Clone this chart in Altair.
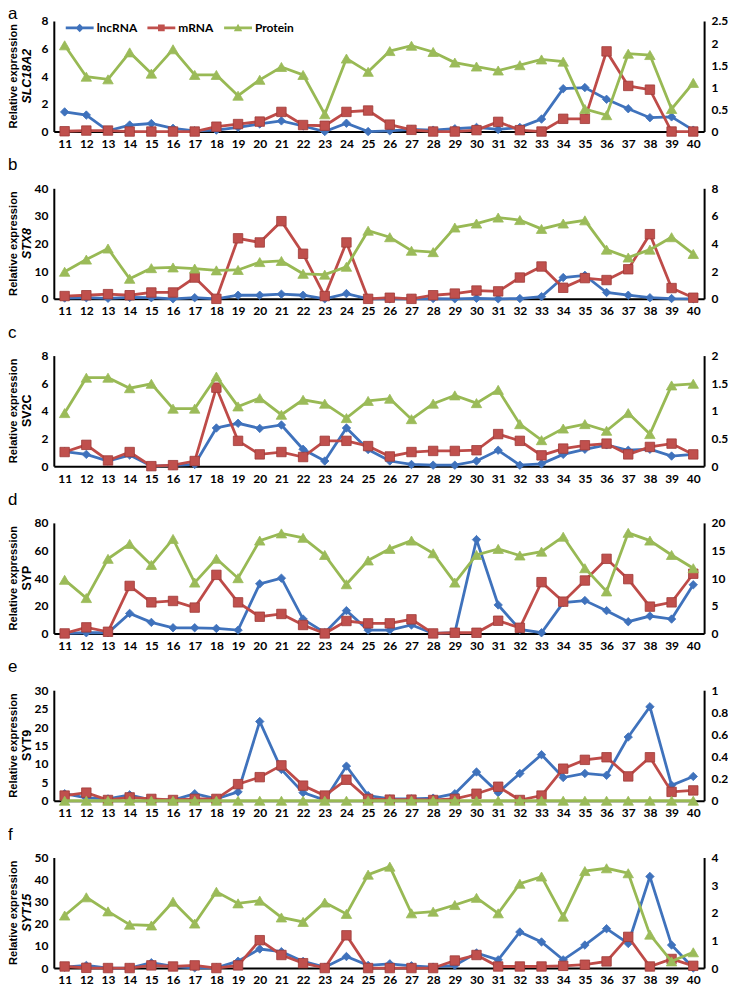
import altair as alt
import pandas as pd

stages = list(range(11, 41))
series_names = ["lncRNA", "mRNA", "Protein"]
panel_letters = ["a", "b", "c", "d", "e", "f"]
genes = ["SLC18A2", "STX8", "SV2C", "SYP", "SYT9", "SYT15"]
gene_italic = [True, True, False, False, False, True]

left_ticks = [[0, 2, 4, 6, 8], [0, 10, 20, 30, 40], [0, 2, 4, 6, 8],
              [0, 20, 40, 60, 80], [0, 5, 10, 15, 20, 25, 30], [0, 10, 20, 30, 40, 50]]
right_ticks = [[0, 0.5, 1, 1.5, 2, 2.5], [0, 2, 4, 6, 8], [0, 0.5, 1, 1.5, 2],
               [0, 5, 10, 15, 20], [0, 0.2, 0.4, 0.6, 0.8, 1], [0, 1, 2, 3, 4]]
show_legend = [True, False, False, True, True, True]
legend_y = [-7, 0, 0, -11, -6, -11]
title_offset = [-8, 8, 8, 8, 8, 8]

# ---- panel a: SLC18A2
a_lnc = [1.42, 1.19, 0.05, 0.47, 0.58, 0.23, 0.05, 0.1, 0.3, 0.55, 0.77, 0.4, 0.0, 0.6, 0.0,
         0.05, 0.15, 0.1, 0.2, 0.3, 0.15, 0.3, 0.9, 3.1, 3.18, 2.33, 1.65, 1.0, 1.06, 0.1]
a_mrna = [0.02, 0.07, 0.07, 0.0, 0.0, 0.0, 0.0, 0.35, 0.54, 0.72, 1.42, 0.47, 0.42, 1.42, 1.52,
          0.5, 0.12, 0.0, 0.0, 0.1, 0.7, 0.1, 0.0, 0.92, 0.92, 5.8, 3.3, 3.03, 0.0, 0.0]
a_prot = [1.95, 1.24, 1.18, 1.79, 1.31, 1.86, 1.28, 1.28, 0.81, 1.17, 1.46, 1.28, 0.39, 1.65, 1.35,
          1.82, 1.94, 1.8, 1.56, 1.47, 1.38, 1.5, 1.63, 1.58, 0.51, 0.37, 1.76, 1.73, 0.51, 1.1]
# ---- panel b: STX8
b_lnc = [0.3, 0.4, 0.2, 0.5, 0.4, 0.0, 0.4, 0.0, 1.3, 1.3, 1.7, 1.3, 0.0, 1.9, 0.0,
         0.0, 0.0, 0.1, 0.0, 0.2, 0.0, 0.1, 0.8, 7.7, 8.5, 2.3, 1.3, 0.4, 0.1, 0.0]
b_mrna = [1.0, 1.3, 1.7, 1.3, 2.3, 2.3, 7.7, 0.0, 21.9, 20.4, 28.1, 16.3, 1.0, 20.4, 0.0,
          0.4, 0.0, 1.3, 1.9, 3.0, 2.7, 7.7, 11.7, 4.0, 7.5, 6.8, 10.7, 23.4, 3.9, 0.4]
b_prot = [1.96, 2.84, 3.64, 1.45, 2.22, 2.27, 2.19, 2.06, 2.09, 2.66, 2.74, 1.81, 1.75, 2.32, 4.93,
          4.46, 3.48, 3.38, 5.16, 5.45, 5.88, 5.7, 5.06, 5.45, 5.68, 3.56, 2.99, 3.56, 4.46, 3.25]
# ---- panel c: SV2C
c_lnc = [1.05, 0.85, 0.37, 0.8, 0.0, 0.05, 0.12, 2.76, 3.1, 2.73, 2.98, 1.22, 0.37, 2.76, 1.2,
         0.37, 0.12, 0.07, 0.07, 0.37, 1.15, 0.07, 0.17, 0.85, 1.22, 1.54, 1.15, 1.22, 0.73, 0.85]
c_mrna = [1.02, 1.54, 0.41, 1.02, 0.0, 0.07, 0.37, 5.68, 1.83, 0.85, 1.02, 0.66, 1.83, 1.83, 1.45,
          0.7, 1.02, 1.1, 1.1, 1.15, 2.32, 1.83, 0.78, 1.27, 1.51, 1.63, 0.85, 1.39, 1.63, 0.85]
c_prot = [0.96, 1.6, 1.6, 1.41, 1.49, 1.04, 1.04, 1.62, 1.08, 1.23, 0.93, 1.2, 1.13, 0.87, 1.18,
          1.22, 0.85, 1.13, 1.28, 1.14, 1.38, 0.76, 0.47, 0.68, 0.76, 0.64, 0.96, 0.58, 1.46, 1.49]
# ---- panel d: SYP
d_lnc = [0.0, 0.5, 0.5, 14.5, 8.0, 4.1, 4.1, 3.6, 2.4, 35.9, 40.0, 10.4, 0.5, 16.5, 2.4,
         2.4, 6.1, 0.0, 0.5, 67.9, 20.6, 2.9, 0.5, 22.3, 23.8, 16.5, 8.5, 12.6, 10.4, 35.2]
d_mrna = [0.0, 4.4, 1.2, 34.4, 22.5, 23.5, 18.7, 42.4, 22.5, 12.1, 14.1, 6.1, 0.0, 9.0, 7.3,
          7.3, 10.2, 0.0, 0.5, 0.5, 9.2, 4.1, 37.1, 23.0, 38.3, 54.0, 39.3, 19.4, 22.5, 43.2]
d_prot = [9.7, 6.4, 13.5, 16.2, 12.4, 17.1, 9.2, 13.5, 10.0, 16.8, 18.1, 17.3, 14.2, 8.9, 13.2,
          15.3, 16.8, 14.5, 9.2, 14.2, 15.3, 14.1, 14.8, 17.5, 11.8, 7.6, 18.2, 16.8, 14.2, 11.8]
# ---- panel e: SYT9
e_lnc = [1.9, 0.75, 0.5, 1.6, 0.2, 0.2, 1.9, 0.5, 2.4, 21.5, 8.5, 2.2, 0.2, 9.4, 1.4,
         0.5, 0.5, 0.7, 1.9, 7.8, 2.2, 7.4, 12.5, 6.3, 7.4, 6.9, 17.3, 25.5, 4.2, 6.6]
e_mrna = [1.4, 2.2, 0.2, 0.9, 0.5, 0.2, 0.5, 0.5, 4.5, 6.4, 9.6, 4.1, 1.4, 5.7, 0.5,
          0.3, 0.3, 0.2, 0.5, 1.9, 3.8, 0.2, 1.4, 8.7, 11.1, 11.8, 6.6, 11.8, 2.4, 2.8]
e_prot = [0.0, 0.0, 0.0, 0.0, 0.0, 0.0, 0.0, 0.0, 0.0, 0.0, 0.0, 0.0, 0.0, 0.0, 0.0,
          0.0, 0.0, 0.0, 0.0, 0.0, 0.0, 0.0, 0.0, 0.0, 0.0, 0.0, 0.0, 0.0, 0.0, 0.0]
# ---- panel f: SYT15
f_lnc = [0.4, 1.2, 0.0, 0.0, 2.4, 0.7, 0.1, 0.1, 3.1, 8.6, 7.4, 3.0, 0.4, 5.2, 1.2,
         1.9, 1.0, 0.4, 1.2, 6.8, 3.7, 16.3, 11.8, 3.7, 10.4, 17.8, 11.1, 41.4, 10.4, 0.0]
f_mrna = [0.7, 0.1, 0.0, 0.0, 1.2, 0.7, 1.2, 0.0, 1.2, 12.6, 5.9, 2.2, 0.0, 14.8, 0.0,
          0.0, 0.0, 0.0, 3.4, 5.9, 0.7, 0.7, 0.7, 1.0, 1.5, 3.0, 14.1, 0.7, 4.1, 1.0]
f_prot = [1.9, 2.56, 2.05, 1.57, 1.54, 2.4, 1.61, 2.76, 2.34, 2.44, 1.83, 1.67, 2.37, 1.96, 3.38,
          3.67, 1.98, 2.04, 2.28, 2.54, 1.98, 3.05, 3.31, 1.86, 3.51, 3.61, 3.43, 1.21, 0.24, 0.57]

lnc_all = [a_lnc, b_lnc, c_lnc, d_lnc, e_lnc, f_lnc]
mrna_all = [a_mrna, b_mrna, c_mrna, d_mrna, e_mrna, f_mrna]
prot_all = [a_prot, b_prot, c_prot, d_prot, e_prot, f_prot]

BLUE_L, BLUE_F = "#3F72BC", "#3F72BC"
RED_L, RED_F, RED_S = "#BE4B48", "#C0504D", "#9E3A38"
GREEN_L, GREEN_F = "#98B954", "#9BBB59"
NUM_FONT = "Lato"
TXT_FONT = "Liberation Sans"
W, H = 653, 111

legend_paths = [
    "M-1,-0.1H1V0.1H-1Z M0,-0.3L0.3,0L0,0.3L-0.3,0Z",
    "M-1,-0.1H1V0.1H-1Z M-0.24,-0.24H0.24V0.24H-0.24Z",
    "M-1,-0.1H1V0.1H-1Z M0,-0.3L0.3,0.24H-0.3Z",
]


def panel(i):
    df = pd.DataFrame({
        "stage": stages * 3,
        "series": [s for s in series_names for _ in stages],
        "value": lnc_all[i] + mrna_all[i] + prot_all[i],
    })
    base = alt.Chart(df)
    xenc = alt.X("stage:O", title=None, sort="ascending",
                 axis=alt.Axis(labelAngle=0, ticks=False, tickSize=0, labelPadding=7,
                               labelFont=NUM_FONT, labelFontSize=12, labelFontWeight="bold",
                               labelColor="black", domainColor="black", domainWidth=2,
                               grid=False))
    yl = alt.Y("value:Q", title=None,
               scale=alt.Scale(domain=[0, left_ticks[i][-1]], nice=False, zero=True),
               axis=alt.Axis(values=left_ticks[i], ticks=False, tickSize=0, labelPadding=6,
                             labelFont=NUM_FONT, labelFontSize=12, labelFontWeight="bold",
                             labelColor="black", domainColor="black", domainWidth=2,
                             grid=False, format=".2~f"))
    yr = alt.Y("value:Q", title=None,
               scale=alt.Scale(domain=[0, right_ticks[i][-1]], nice=False, zero=True),
               axis=alt.Axis(orient="right", values=right_ticks[i], ticks=False, tickSize=0,
                             labelPadding=7, labelFont=NUM_FONT, labelFontSize=12,
                             labelFontWeight="bold", labelColor="black", domainColor="black",
                             domainWidth=2, grid=False, format=".2~f"))

    def series_layers(name, y, lc, fc, sc, shape, size):
        sub = base.transform_filter(alt.datum.series == name)
        ln = sub.mark_line(color=lc, strokeWidth=2.8).encode(x=xenc, y=y)
        pt = sub.mark_point(filled=True, shape=shape, size=size, fill=fc, stroke=sc,
                            strokeWidth=0.8, opacity=1).encode(x=xenc, y=y)
        return [ln, pt]

    left = alt.layer(*series_layers("lncRNA", yl, BLUE_L, BLUE_F, BLUE_F, "diamond", 72),
                     *series_layers("mRNA", yl, RED_L, RED_F, RED_S, "square", 90))
    right = alt.layer(*series_layers("Protein", yr, GREEN_L, GREEN_F, GREEN_F,
                                     "triangle-up", 110))

    rel = alt.Chart(pd.DataFrame({"t": ["Relative expression"]})).mark_text(
        angle=270, font=TXT_FONT, fontSize=11.2, fontWeight="bold", color="black",
        align="center", baseline="middle"
    ).encode(x=alt.value(-40), y=alt.value(H / 2), text="t:N")
    gene = alt.Chart(pd.DataFrame({"t": [genes[i]]})).mark_text(
        angle=270, font=TXT_FONT, fontSize=12.5, fontWeight="bold",
        fontStyle="italic" if gene_italic[i] else "normal", color="black",
        align="center", baseline="middle"
    ).encode(x=alt.value(-27), y=alt.value(H / 2), text="t:N")

    layers = [left, right, rel, gene]
    if show_legend[i]:
        leg = alt.Legend(title=None, orient="none", legendX=12, legendY=legend_y[i],
                         direction="horizontal", columns=3, symbolSize=784,
                         symbolStrokeWidth=0, labelFont=NUM_FONT, labelFontSize=12,
                         labelFontWeight="bold", labelColor="black", labelOffset=3,
                         columnPadding=10)
        legend_layer = base.transform_filter("false").mark_point(
            filled=True, opacity=1
        ).encode(
            color=alt.Color("series:N", scale=alt.Scale(domain=series_names,
                            range=[BLUE_L, RED_F, GREEN_F]), legend=leg),
            shape=alt.Shape("series:N", scale=alt.Scale(domain=series_names,
                            range=legend_paths), legend=leg),
        )
        layers.append(legend_layer)

    return alt.layer(*layers).resolve_scale(y="independent").properties(
        width=W, height=H,
        title=alt.TitleParams(panel_letters[i], anchor="start", frame="bounds",
                              fontSize=17, font=TXT_FONT, fontWeight="normal",
                              color="black", offset=title_offset[i]),
    )


chart = alt.vconcat(*[panel(i) for i in range(6)], spacing=7).properties(
    padding={"left": 0, "top": -5, "right": 0, "bottom": 0}
).configure_view(stroke=None)

chart.save("out.html", embed_options={"renderer": "svg", "actions": False})
